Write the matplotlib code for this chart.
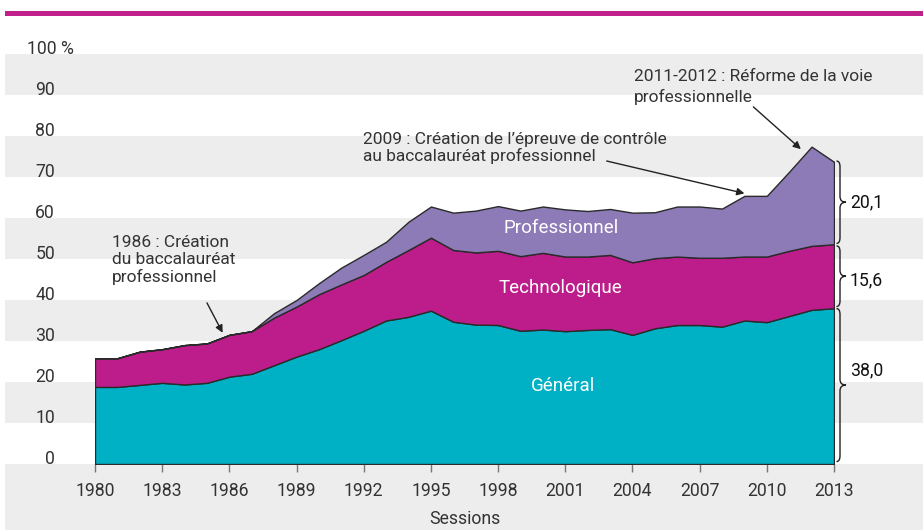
import matplotlib.pyplot as plt
from matplotlib.patches import Rectangle, PathPatch
from matplotlib.path import Path

plt.rcParams['font.family'] = ['Roboto', 'DejaVu Sans']

# Part des bacheliers dans une génération (%)
years = list(range(1980, 2014))
general = [18.8, 18.8, 19.3, 19.8, 19.4, 19.8, 21.3, 22.0, 24.1, 26.2,
           28.0, 30.2, 32.5, 35.0, 35.9, 37.4, 34.7, 34.0, 33.9, 32.5,
           32.8, 32.4, 32.7, 32.9, 31.5, 33.1, 33.9, 33.9, 33.5, 35.0,
           34.6, 36.1, 37.6, 38.0]
techno = [7.0, 7.0, 8.1, 8.2, 9.6, 9.6, 10.2, 10.4, 11.6, 12.2,
          13.4, 13.6, 13.6, 14.3, 16.3, 17.8, 17.5, 17.6, 18.1, 18.2,
          18.7, 18.2, 17.9, 18.1, 17.7, 17.1, 16.7, 16.4, 16.8, 15.6,
          16.0, 15.9, 15.6, 15.6]
prof = [0, 0, 0, 0, 0, 0, 0, 0, 1.1, 1.6,
        2.7, 4.1, 4.9, 4.9, 6.9, 7.6, 9.1, 10.2, 10.9, 11.1,
        11.3, 11.5, 11.1, 11.2, 12.1, 11.2, 12.2, 12.5, 12.0, 14.8,
        14.8, 19.3, 24.2, 20.1]
series_names = ['Général', 'Technologique', 'Professionnel']
last_values = ['38,0', '15,6', '20,1']
xtick_years = list(range(1980, 2014, 3))
ytick_values = list(range(0, 101, 10))

c_gen = '#00B0C4'
c_tec = '#BD1C8B'
c_pro = '#8D7BB7'
band = '#EDEDED'
txt = '#333333'
fs = 12.5

W, H = 923, 530
fig = plt.figure(figsize=(W / 100, H / 100), dpi=100)
ax = fig.add_axes([95 / W, (H - 464) / H, (834 - 95) / W, (464 - 54) / H])
ax.set_xlim(1980, 2013)
ax.set_ylim(0, 100)
for s in ax.spines.values():
    s.set_visible(False)

# grey bands
x0b, x1b = (5 - 95) / 739, (923 - 95) / 739
for lo in [90, 70, 50, 30, 10]:
    ax.axhspan(lo, lo + 10, xmin=x0b, xmax=x1b, color=band, lw=0, zorder=0, clip_on=False)
ax.axhspan(-17, 0, xmin=x0b, xmax=x1b, color=band, lw=0, zorder=0, clip_on=False)

# top magenta rule
fig.patches.append(Rectangle((5 / W, (H - 15.5) / H), 918 / W, 5 / H,
                             transform=fig.transFigure, color='#C0208A', lw=0))

# stacked areas
ax.stackplot(years, general, techno, prof, colors=[c_gen, c_tec, c_pro],
             edgecolor='#2a2a2a', linewidth=1, zorder=2)

# x axis
ax.set_xticks(xtick_years)
ax.set_xticklabels([str(y) for y in xtick_years])
ax.tick_params(axis='x', direction='out', length=5.8, width=1, color='#777777',
               labelsize=12.7, labelcolor=txt, pad=7)
ax.set_xlabel('Sessions', fontsize=12.7, color=txt, labelpad=7.5)

# y axis labels
ax.set_yticks([])
ytr = ax.get_yaxis_transform()
for v in ytick_values:
    if v == 100:
        ax.text((27 - 95) / 739, v, '100 %', transform=ytr, ha='left', va='baseline',
                fontsize=12.7, color=txt, clip_on=False)
    else:
        ax.text((55 - 95) / 739, v, str(v), transform=ytr, ha='right', va='baseline',
                fontsize=12.7, color=txt, clip_on=False)

# labels inside areas
ax.text(2000.9, 19.0, series_names[0], color='white', fontsize=13.5, ha='center', va='center', zorder=3)
ax.text(2000.8, 42.9, series_names[1], color='white', fontsize=13.5, ha='center', va='center', zorder=3)
ax.text(2000.8, 57.6, series_names[2], color='white', fontsize=13.5, ha='center', va='center', zorder=3)

# annotations
arrow = dict(arrowstyle='-|>', color='#222222', lw=1, mutation_scale=11, shrinkA=0, shrinkB=0)
ax.text(1980.75, 55.8, '1986 : Création\ndu baccalauréat\nprofessionnel', ha='left', va='top',
        fontsize=fs, color=txt, linespacing=1.13)
ax.annotate('', xy=(1985.7, 32.0), xytext=(1985.0, 39.3), arrowprops=arrow)
ax.text(1991.96, 81.0, '2009 : Création de l’épreuve de contrôle\nau baccalauréat professionnel',
        ha='left', va='top', fontsize=fs, color=txt, linespacing=1.06)
ax.annotate('', xy=(2009.0, 66.0), xytext=(2002.85, 73.9), arrowprops=arrow)
ax.text(2004.05, 96.3, '2011-2012 : Réforme de la voie\nprofessionnelle', ha='left', va='top',
        fontsize=fs, color=txt, linespacing=1.36)
ax.annotate('', xy=(2011.52, 76.8), xytext=(2009.4, 87.1), arrowprops=arrow)


def brace(y0, y1):
    px = 1 / 22.39
    xe, xs, xt = 2013 + 2.5 * px, 2013 + 6 * px, 2013 + 12 * px
    h = 1.4
    ym = (y0 + y1) / 2
    verts = [(xe, y0), (xs, y0), (xs, y0 + h), (xs, ym - h), (xs, ym), (xt, ym),
             (xs, ym), (xs, ym + h), (xs, y1 - h), (xs, y1), (xe, y1)]
    codes = [Path.MOVETO, Path.CURVE3, Path.CURVE3, Path.LINETO, Path.CURVE3, Path.CURVE3,
             Path.CURVE3, Path.CURVE3, Path.LINETO, Path.CURVE3, Path.CURVE3]
    ax.add_patch(PathPatch(Path(verts, codes), fill=False, lw=1, edgecolor='#222222',
                           clip_on=False))


brace(0.6, 37.9)
brace(38.4, 53.2)
brace(53.8, 73.9)
for y, lab in zip([22.9, 44.9, 63.7], last_values):
    ax.text(2013.71, y, lab, ha='left', va='center', fontsize=12.7, color='#111111', clip_on=False)

fig.savefig('out.png', dpi=100)
